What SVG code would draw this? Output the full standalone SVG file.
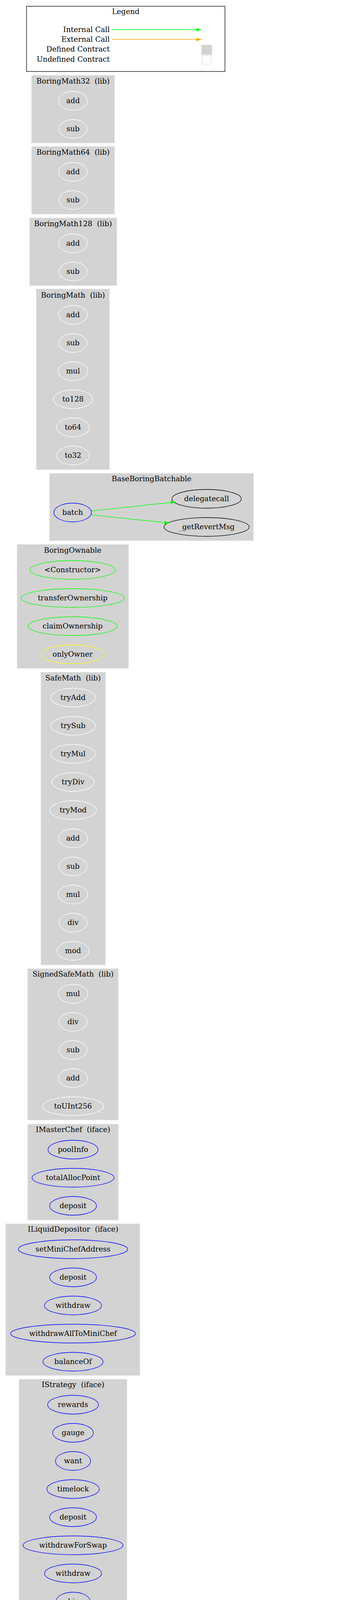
<svg xmlns="http://www.w3.org/2000/svg" width="886" height="7455" viewBox="0 0 886 7455">
<style>
text{font-family:"DejaVu Serif","Liberation Serif",serif;font-size:18.67px;text-anchor:middle;fill:#000}
.cd{fill:#d3d3d3;stroke:#e0e0e0;stroke-width:1.33}
.cu{fill:#fff;stroke:#d3d3d3;stroke-width:1.33}
ellipse{stroke-width:1.33;fill:none}
.w{stroke:#fff}.b{stroke:#0000ff}.g{stroke:#00ff00}.k{stroke:#000}.y{stroke:#ffff00}
.eg{fill:none;stroke:#00ff00;stroke-width:1.33}
.eo{fill:none;stroke:#ffa500;stroke-width:1.33}
</style>
<defs>
<marker id="ag" markerUnits="userSpaceOnUse" markerWidth="14" markerHeight="10" refX="13" refY="4.5" orient="auto"><path d="M0,0 L13,4.5 L0,9 z" fill="#00ff00"/></marker>
<marker id="ao" markerUnits="userSpaceOnUse" markerWidth="14" markerHeight="10" refX="13" refY="4.5" orient="auto"><path d="M0,0 L13,4.5 L0,9 z" fill="#ffa500"/></marker>
</defs>
<rect width="886" height="7455" fill="#fff"/>
<g id="legend">
<rect x="68" y="16" width="508" height="167" fill="#fff" stroke="#000" stroke-width="1.33"/>
<text x="322" y="36">Legend</text>
<text x="281" y="82" style="text-anchor:end">Internal Call</text>
<text x="281" y="107" style="text-anchor:end">External Call</text>
<text x="281" y="132" style="text-anchor:end">Defined Contract</text>
<text x="281" y="158" style="text-anchor:end">Undefined Contract</text>
<path class="eg" d="M286,76 L516,76" marker-end="url(#ag)"/>
<path class="eo" d="M286,101 L516,101" marker-end="url(#ao)"/>
<rect x="516" y="115" width="27" height="25" fill="#d3d3d3" stroke="#e0e0e0"/>
<rect x="519" y="142" width="21" height="22" fill="#fff" stroke="#e0e0e0" stroke-width="1.33"/>
</g>
<g id="BoringMath32"><rect class="cd" x="81" y="193" width="212" height="173"/><text x="187" y="214">BoringMath32&#160; (lib)</text>
<ellipse class="w" cx="187" cy="258" rx="37" ry="24"/><text x="187" y="264">add</text>
<ellipse class="w" cx="187" cy="330" rx="36" ry="24"/><text x="187" y="336">sub</text></g>
<g id="BoringMath64"><rect class="cd" x="81" y="375" width="212" height="173"/><text x="187" y="396">BoringMath64&#160; (lib)</text>
<ellipse class="w" cx="187" cy="440" rx="37" ry="24"/><text x="187" y="446">add</text>
<ellipse class="w" cx="187" cy="512" rx="36" ry="24"/><text x="187" y="518">sub</text></g>
<g id="BoringMath128"><rect class="cd" x="76" y="558" width="223" height="173"/><text x="187" y="579">BoringMath128&#160; (lib)</text>
<ellipse class="w" cx="187" cy="623" rx="37" ry="24"/><text x="187" y="629">add</text>
<ellipse class="w" cx="187" cy="695" rx="36" ry="24"/><text x="187" y="701">sub</text></g>
<g id="BoringMath"><rect class="cd" x="93" y="740" width="187" height="462"/><text x="187" y="762">BoringMath&#160; (lib)</text>
<ellipse class="w" cx="187" cy="806" rx="37" ry="24"/><text x="187" y="812">add</text>
<ellipse class="w" cx="187" cy="878" rx="36" ry="24"/><text x="187" y="884">sub</text>
<ellipse class="w" cx="187" cy="950" rx="38" ry="24"/><text x="187" y="956">mul</text>
<ellipse class="w" cx="187" cy="1022" rx="50" ry="24"/><text x="187" y="1028">to128</text>
<ellipse class="w" cx="187" cy="1094" rx="42" ry="24"/><text x="187" y="1100">to64</text>
<ellipse class="w" cx="187" cy="1166" rx="42" ry="24"/><text x="187" y="1172">to32</text></g>
<g id="BaseBoringBatchable"><rect class="cd" x="127" y="1212" width="522" height="172"/><text x="388" y="1232">BaseBoringBatchable</text>
<ellipse class="b" cx="186" cy="1312" rx="48" ry="24"/><text x="186" y="1318">batch</text>
<ellipse class="k" cx="529" cy="1277" rx="89" ry="24"/><text x="529" y="1283">delegatecall</text>
<ellipse class="k" cx="529" cy="1349" rx="109" ry="24"/><text x="529" y="1355">_getRevertMsg</text></g>
<g id="BoringOwnable"><rect class="cd" x="44" y="1394" width="285" height="317"/><text x="186" y="1415">BoringOwnable</text>
<ellipse class="g" cx="186" cy="1459" rx="109" ry="24"/><text x="186" y="1465">&lt;Constructor&gt;</text>
<ellipse class="g" cx="186" cy="1531" rx="132" ry="24"/><text x="186" y="1537">transferOwnership</text>
<ellipse class="g" cx="186" cy="1603" rx="114" ry="24"/><text x="186" y="1609">claimOwnership</text>
<ellipse class="y" cx="186" cy="1675" rx="81" ry="24"/><text x="186" y="1681">onlyOwner</text></g>
<g id="SafeMath"><rect class="cd" x="105" y="1721" width="165" height="749"/><text x="187" y="1742">SafeMath&#160; (lib)</text>
<ellipse class="w" cx="187" cy="1786" rx="57" ry="24"/><text x="187" y="1792">tryAdd</text>
<ellipse class="w" cx="187" cy="1858" rx="57" ry="24"/><text x="187" y="1864">trySub</text>
<ellipse class="w" cx="187" cy="1930" rx="57" ry="24"/><text x="187" y="1936">tryMul</text>
<ellipse class="w" cx="187" cy="2002" rx="54" ry="24"/><text x="187" y="2008">tryDiv</text>
<ellipse class="w" cx="187" cy="2074" rx="60" ry="24"/><text x="187" y="2080">tryMod</text>
<ellipse class="w" cx="187" cy="2146" rx="37" ry="24"/><text x="187" y="2152">add</text>
<ellipse class="w" cx="187" cy="2218" rx="36" ry="24"/><text x="187" y="2224">sub</text>
<ellipse class="w" cx="187" cy="2290" rx="38" ry="24"/><text x="187" y="2296">mul</text>
<ellipse class="w" cx="187" cy="2362" rx="36" ry="24"/><text x="187" y="2368">div</text>
<ellipse class="w" cx="187" cy="2434" rx="41" ry="24"/><text x="187" y="2440">mod</text></g>
<g id="SignedSafeMath"><rect class="cd" x="71" y="2480" width="232" height="387"/><text x="187" y="2500">SignedSafeMath&#160; (lib)</text>
<ellipse class="w" cx="187" cy="2544" rx="38" ry="24"/><text x="187" y="2550">mul</text>
<ellipse class="w" cx="187" cy="2616" rx="36" ry="24"/><text x="187" y="2622">div</text>
<ellipse class="w" cx="187" cy="2688" rx="36" ry="24"/><text x="187" y="2694">sub</text>
<ellipse class="w" cx="187" cy="2760" rx="37" ry="24"/><text x="187" y="2766">add</text>
<ellipse class="w" cx="187" cy="2832" rx="78" ry="24"/><text x="187" y="2838">toUInt256</text></g>
<g id="IMasterChef"><rect class="cd" x="71" y="2878" width="232" height="245"/><text x="187" y="2898">IMasterChef&#160; (iface)</text>
<ellipse class="b" cx="187" cy="2943" rx="64" ry="24"/><text x="187" y="2949">poolInfo</text>
<ellipse class="b" cx="187" cy="3015" rx="105" ry="24"/><text x="187" y="3021">totalAllocPoint</text>
<ellipse class="b" cx="187" cy="3087" rx="60" ry="24"/><text x="187" y="3093">deposit</text></g>
<g id="ILiquidDepositor"><rect class="cd" x="15" y="3133" width="343" height="388"/><text x="187" y="3153">ILiquidDepositor&#160; (iface)</text>
<ellipse class="b" cx="187" cy="3198" rx="140" ry="24"/><text x="187" y="3204">setMiniChefAddress</text>
<ellipse class="b" cx="187" cy="3270" rx="60" ry="24"/><text x="187" y="3276">deposit</text>
<ellipse class="b" cx="187" cy="3342" rx="73" ry="24"/><text x="187" y="3348">withdraw</text>
<ellipse class="b" cx="187" cy="3414" rx="160" ry="24"/><text x="187" y="3420">withdrawAllToMiniChef</text>
<ellipse class="b" cx="187" cy="3486" rx="77" ry="24"/><text x="187" y="3492">balanceOf</text></g>
<g id="IStrategy"><rect class="cd" x="49" y="3531" width="276" height="1181"/><text x="187" y="3551">IStrategy&#160; (iface)</text>
<ellipse class="b" cx="187" cy="3596" rx="65" ry="24"/><text x="187" y="3602">rewards</text>
<ellipse class="b" cx="187" cy="3668" rx="52" ry="24"/><text x="187" y="3674">gauge</text>
<ellipse class="b" cx="187" cy="3740" rx="45" ry="24"/><text x="187" y="3746">want</text>
<ellipse class="b" cx="187" cy="3812" rx="67" ry="24"/><text x="187" y="3818">timelock</text>
<ellipse class="b" cx="187" cy="3884" rx="60" ry="24"/><text x="187" y="3890">deposit</text>
<ellipse class="b" cx="187" cy="3956" rx="128" ry="24"/><text x="187" y="3962">withdrawForSwap</text>
<ellipse class="b" cx="187" cy="4028" rx="73" ry="24"/><text x="187" y="4034">withdraw</text>
<ellipse class="b" cx="187" cy="4100" rx="44" ry="24"/><text x="187" y="4106">skim</text>
<ellipse class="b" cx="187" cy="4172" rx="89" ry="24"/><text x="187" y="4178">withdrawAll</text>
<ellipse class="b" cx="187" cy="4244" rx="77" ry="24"/><text x="187" y="4250">balanceOf</text>
<ellipse class="b" cx="187" cy="4316" rx="109" ry="24"/><text x="187" y="4322">balanceOfWant</text>
<ellipse class="b" cx="187" cy="4388" rx="110" ry="24"/><text x="187" y="4394">getHarvestable</text>
<ellipse class="b" cx="187" cy="4460" rx="62" ry="24"/><text x="187" y="4466">harvest</text>
<ellipse class="b" cx="187" cy="4532" rx="88" ry="24"/><text x="187" y="4538">setTimelock</text>
<ellipse class="b" cx="187" cy="4604" rx="97" ry="24"/><text x="187" y="4610">setController</text>
<ellipse class="b" cx="187" cy="4676" rx="62" ry="24"/><text x="187" y="4682">execute</text></g>
<g id="BoringERC20"><rect class="cd" x="50" y="4722" width="273" height="389"/><text x="187" y="4743">BoringERC20&#160; (lib)</text>
<ellipse class="w" cx="187" cy="4787" rx="85" ry="24"/><text x="187" y="4793">safeSymbol</text>
<ellipse class="w" cx="187" cy="4859" rx="77" ry="24"/><text x="187" y="4865">safeName</text>
<ellipse class="w" cx="187" cy="4931" rx="97" ry="24"/><text x="187" y="4937">safeDecimals</text>
<ellipse class="w" cx="187" cy="5003" rx="92" ry="24"/><text x="187" y="5009">safeTransfer</text>
<ellipse class="w" cx="187" cy="5075" rx="126" ry="24"/><text x="187" y="5081">safeTransferFrom</text></g>
<g id="IERC20"><rect class="cd" x="425" y="4758" width="208" height="605"/><text x="529" y="4779">IERC20&#160; (iface)</text>
<ellipse class="b" cx="529" cy="4824" rx="85" ry="24"/><text x="529" y="4830">totalSupply</text>
<ellipse class="k" cx="529" cy="4895" rx="70" ry="24"/><text x="529" y="4901">staticcall</text>
<ellipse class="b" cx="529" cy="4967" rx="75" ry="24"/><text x="529" y="4973">allowance</text>
<ellipse class="k" cx="529" cy="5039" rx="36" ry="24"/><text x="529" y="5045">call</text>
<ellipse class="k" cx="529" cy="5111" rx="57" ry="24"/><text x="529" y="5117">permit</text>
<ellipse class="k" cx="529" cy="5183" rx="64" ry="24"/><text x="529" y="5189">approve</text>
<ellipse class="k" cx="529" cy="5255" rx="77" ry="24"/><text x="529" y="5261">balanceOf</text>
<ellipse class="k" cx="529" cy="5328" rx="93" ry="24"/><text x="529" y="5334">safeTransfer</text></g>
<g id="BoringBatchable"><rect class="cd" x="83" y="5121" width="207" height="100"/><text x="186" y="5142">BoringBatchable</text>
<ellipse class="g" cx="186" cy="5186" rx="93" ry="24"/><text x="186" y="5192">permitToken</text></g>
<g id="MiniChefV2"><rect class="cd" x="20" y="5372" width="603" height="1037"/><text x="320" y="5394">MiniChefV2</text>
<ellipse class="g" cx="186" cy="5438" rx="109" ry="24"/><text x="186" y="5444">&lt;Constructor&gt;</text>
<ellipse class="g" cx="186" cy="5510" rx="84" ry="24"/><text x="186" y="5516">poolLength</text>
<ellipse class="g" cx="186" cy="5582" rx="63" ry="24"/><text x="186" y="5588">migrate</text>
<ellipse class="b" cx="186" cy="5654" rx="124" ry="24"/><text x="186" y="5660">massUpdatePools</text>
<ellipse class="g" cx="186" cy="5726" rx="156" ry="24"/><text x="186" y="5732">setEnergyFiPerSecond</text>
<ellipse class="g" cx="186" cy="5798" rx="88" ry="24"/><text x="186" y="5804">setMigrator</text>
<ellipse class="b" cx="186" cy="5870" rx="121" ry="24"/><text x="186" y="5876">pendingEnergyFi</text>
<ellipse class="g" cx="186" cy="5942" rx="37" ry="24"/><text x="186" y="5948">add</text>
<ellipse class="g" cx="186" cy="6014" rx="36" ry="24"/><text x="186" y="6020">set</text>
<ellipse class="g" cx="186" cy="6086" rx="62" ry="24"/><text x="186" y="6092">harvest</text>
<ellipse class="g" cx="186" cy="6158" rx="73" ry="24"/><text x="186" y="6164">withdraw</text>
<ellipse class="g" cx="186" cy="6230" rx="143" ry="24"/><text x="186" y="6236">emergencyWithdraw</text>
<ellipse class="g" cx="186" cy="6302" rx="60" ry="24"/><text x="186" y="6308">deposit</text>
<ellipse class="g" cx="186" cy="6374" rx="146" ry="24"/><text x="186" y="6380">withdrawAndHarvest</text>
<ellipse class="k" cx="529" cy="6086" rx="83" ry="24"/><text x="529" y="6092">updatePool</text></g>
<g id="time"><rect class="cu" x="741" y="5936" width="97" height="100"/><text x="790" y="5956">time</text>
<ellipse class="k" cx="790" cy="6000" rx="38" ry="24"/><text x="790" y="6006">mul</text></g>
<g id="energyFiReward"><rect class="cu" x="701" y="6052" width="179" height="100"/><text x="790" y="6072">energyFiReward</text>
<ellipse class="k" cx="790" cy="6116" rx="38" ry="24"/><text x="790" y="6122">mul</text></g>
<g id="totalAllocPoint"><rect class="cu" x="450" y="6420" width="161" height="172"/><text x="530" y="6440">totalAllocPoint</text>
<ellipse class="k" cx="529" cy="6485" rx="37" ry="24"/><text x="529" y="6491">add</text>
<ellipse class="k" cx="529" cy="6557" rx="36" ry="24"/><text x="529" y="6563">sub</text></g>
<g id="allocPoint"><rect class="cu" x="472" y="6603" width="114" height="99"/><text x="529" y="6623">allocPoint</text>
<ellipse class="k" cx="529" cy="6667" rx="42" ry="24"/><text x="529" y="6673">to64</text></g>
<g id="_allocPoint"><rect class="cu" x="468" y="6713" width="124" height="100"/><text x="530" y="6734">_allocPoint</text>
<ellipse class="k" cx="529" cy="6778" rx="42" ry="24"/><text x="529" y="6784">to64</text></g>
<g id="IMigratorChef"><rect class="cd" x="415" y="6824" width="230" height="100"/><text x="530" y="6844">IMigratorChef&#160; (iface)</text>
<ellipse class="k" cx="529" cy="6888" rx="63" ry="24"/><text x="529" y="6894">migrate</text></g>
<g id="accEnergyFiPerShare"><rect class="cu" x="415" y="6935" width="230" height="100"/><text x="530" y="6955">accEnergyFiPerShare</text>
<ellipse class="k" cx="529" cy="6999" rx="37" ry="24"/><text x="529" y="7005">add</text></g>
<g id="IRewarder"><rect class="cd" x="384" y="7045" width="291" height="172"/><text x="530" y="7066">IRewarder&#160; (iface)</text>
<ellipse class="k" cx="529" cy="7110" rx="135" ry="24"/><text x="529" y="7116">onEnergyFiReward</text>
<ellipse class="b" cx="529" cy="7182" rx="107" ry="24"/><text x="529" y="7188">pendingTokens</text></g>
<g id="amount"><rect class="cu" x="481" y="7228" width="97" height="99"/><text x="529" y="7248">amount</text>
<ellipse class="k" cx="529" cy="7292" rx="38" ry="24"/><text x="529" y="7298">mul</text></g>
<g id="accumulatedEnergyFi"><rect class="cu" x="415" y="7338" width="230" height="100"/><text x="530" y="7358">accumulatedEnergyFi</text>
<ellipse class="k" cx="529" cy="7403" rx="36" ry="24"/><text x="529" y="7409">sub</text></g>
<g id="connectors">
<path class="eg" d="M234,1308 L450,1285" marker-end="url(#ag)"/>
<path class="eg" d="M234,1318 L434,1339" marker-end="url(#ag)"/>
<path class="eo" d="M272,4794 C320,4802 355,4815 362,4830 C370,4855 410,4875 460,4888" marker-end="url(#ao)"/>
<path class="eo" d="M259,4868 L460,4888" marker-end="url(#ao)"/>
<path class="eo" d="M275,4922 L460,4903" marker-end="url(#ao)"/>
<path class="eo" d="M273,5014 L493,5036" marker-end="url(#ao)"/>
<path class="eo" d="M297,5064 L493,5044" marker-end="url(#ao)"/>
<path class="eo" d="M257,5171 L480,5125" marker-end="url(#ao)"/>
<path class="eo" d="M248,5576 C330,5570 378,5520 374,5450 L370,5280 C368,5220 400,5192 465,5184" marker-end="url(#ao)"/>
<path class="eo" d="M249,5585 C340,5580 385,5530 382,5470 L362,5330 C360,5280 400,5255 462,5247" marker-end="url(#ao)"/>
<path class="eo" d="M240,5598 C340,5600 384,5545 380,5480 L364,5365 C360,5305 400,5276 462,5267" marker-end="url(#ao)"/>
<path class="eo" d="M249,5582 C320,5585 358,5620 360,5680 L362,6800 C364,6850 420,6875 467,6882" marker-end="url(#ao)"/>
<path class="eo" d="M248,6082 C320,6078 372,6040 374,5960 L376,5420 C378,5370 400,5342 440,5328" marker-end="url(#ao)"/>
<path class="eo" d="M258,6152 C330,6145 374,6100 376,6020 L376,5420 C378,5370 400,5342 440,5328" marker-end="url(#ao)"/>
<path class="eo" d="M318,6241 C360,6220 374,6180 376,6100 L376,5420 C378,5370 400,5342 440,5328" marker-end="url(#ao)"/>
<path class="eo" d="M322,6364 C360,6345 374,6300 376,6220 L376,5420 C378,5370 400,5342 440,5328" marker-end="url(#ao)"/>
<path class="eg" d="M300,5665 C400,5700 500,5880 524,6061" marker-end="url(#ag)"/>
<path class="eo" d="M272,5888 L752,5996" marker-end="url(#ao)"/>
<path class="eo" d="M305,5878 C350,5900 376,5950 378,6030 L378,6930 C380,6970 430,6990 492,6996" marker-end="url(#ao)"/>
<path class="eo" d="M305,5880 C352,5904 374,5960 374,6040 L374,7220 C376,7260 430,7282 491,7289" marker-end="url(#ao)"/>
<path class="eo" d="M304,5882 C350,5906 372,5966 372,6050 L372,7330 C374,7370 430,7392 493,7399" marker-end="url(#ao)"/>
<path class="eo" d="M223,5940 C320,5938 368,5990 372,6080 L374,6420 C376,6460 430,6476 492,6481" marker-end="url(#ao)"/>
<path class="eo" d="M223,5944 C322,5944 366,6000 370,6090 L372,6600 C374,6640 430,6658 488,6662" marker-end="url(#ao)"/>
<path class="eo" d="M222,6010 C320,6005 366,6060 368,6150 L368,6500 C368,6540 430,6552 493,6556" marker-end="url(#ao)"/>
<path class="eo" d="M222,6014 C318,6012 364,6070 366,6160 L368,6710 C370,6750 430,6770 488,6773" marker-end="url(#ao)"/>
<path class="eo" d="M222,6018 C300,6020 350,6040 358,6070 C370,6120 420,6170 540,6173 C640,6175 710,6150 757,6130" marker-end="url(#ao)"/>
<path class="eg" d="M248,6086 L446,6086" marker-end="url(#ag)"/>
<path class="eo" d="M248,6090 C330,6094 376,6140 378,6220 L378,7020 C380,7060 420,7078 448,7087" marker-end="url(#ao)"/>
<path class="eo" d="M248,6092 C328,6098 370,6150 370,6230 L370,7330 C372,7372 430,7394 493,7403" marker-end="url(#ao)"/>
<path class="eg" d="M252,6142 L462,6102" marker-end="url(#ag)"/>
<path class="eo" d="M259,6162 C330,6166 376,6210 378,6290 L378,7022 C380,7062 420,7080 447,7088" marker-end="url(#ao)"/>
<path class="eo" d="M259,6164 C330,6170 374,6220 374,6300 L374,7225 C376,7265 430,7284 491,7292" marker-end="url(#ao)"/>
<path class="eo" d="M318,6240 C360,6260 378,6300 378,6360 L378,7024 C380,7064 420,7082 447,7089" marker-end="url(#ao)"/>
<path class="eg" d="M246,6298 C330,6290 420,6230 506,6110" marker-end="url(#ag)"/>
<path class="eo" d="M246,6302 C320,6304 374,6340 376,6400 L376,7228 C378,7268 430,7286 491,7293" marker-end="url(#ao)"/>
<path class="eo" d="M246,6304 C318,6308 376,6350 378,6420 L378,7026 C380,7066 420,7084 447,7090" marker-end="url(#ao)"/>
<path class="eg" d="M310,6350 C400,6310 470,6200 515,6110" marker-end="url(#ag)"/>
<path class="eo" d="M190,6398 C205,6700 270,7230 493,7398" marker-end="url(#ao)"/>
<path class="eo" d="M192,6398 C212,6720 290,7300 493,7408" marker-end="url(#ao)"/>
<path class="eo" d="M194,6398 C230,6800 310,7200 491,7290" marker-end="url(#ao)"/>
<path class="eo" d="M196,6398 C240,6700 340,6950 448,7087" marker-end="url(#ao)"/>
<path class="eo" d="M586,6068 L752,6014" marker-end="url(#ao)"/>
<path class="eo" d="M606,6096 L752,6112" marker-end="url(#ao)"/>
</g>
</svg>
